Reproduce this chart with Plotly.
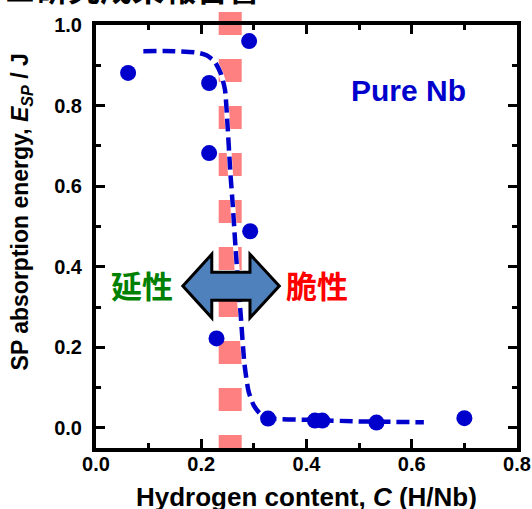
import plotly.graph_objects as go

# Measured data points (H/Nb, J)
h_content = [0.061, 0.215, 0.291, 0.215, 0.293, 0.229, 0.327, 0.416, 0.430, 0.533, 0.700]
sp_energy = [0.881, 0.856, 0.960, 0.682, 0.488, 0.222, 0.023, 0.018, 0.018, 0.013, 0.024]

# Guide curve
curve_x = [0.09, 0.15, 0.19, 0.21, 0.225, 0.237, 0.245, 0.25, 0.255, 0.26, 0.265,
           0.27, 0.275, 0.282, 0.29, 0.30, 0.312, 0.327, 0.40, 0.50, 0.623]
curve_y = [0.935, 0.935, 0.932, 0.925, 0.91, 0.88, 0.84, 0.75, 0.64, 0.55, 0.45,
           0.36, 0.28, 0.16, 0.09, 0.055, 0.035, 0.024, 0.02, 0.016, 0.014]

transition_c = 0.255
x_ticks = [0.0, 0.2, 0.4, 0.6, 0.8]
y_ticks = [0.0, 0.2, 0.4, 0.6, 0.8, 1.0]

BLUE = "#0000CC"
FONT = "Liberation Sans"

fig = go.Figure()
fig.add_trace(go.Scatter(x=curve_x, y=curve_y, mode="lines",
                         line=dict(color="white", width=5, shape="spline", smoothing=0.6),
                         hoverinfo="skip", showlegend=False))
fig.add_trace(go.Scatter(x=curve_x, y=curve_y, mode="lines",
                         line=dict(color=BLUE, width=4.5, dash="13px,6px", shape="spline", smoothing=0.6),
                         showlegend=False))
fig.add_trace(go.Scatter(x=h_content, y=sp_energy, mode="markers",
                         marker=dict(color=BLUE, size=16), showlegend=False))

# Pink transition band
fig.add_shape(type="line", xref="x", yref="paper", x0=transition_c, x1=transition_c,
              y0=1.031, y1=0.0, line=dict(color="#FF8080", width=23, dash="23px,24px"),
              layer="below")

# Double-headed arrow
ax = [0.165, 0.220, 0.220, 0.2926, 0.2926, 0.3483, 0.2926, 0.2926, 0.220, 0.220]
ay = [0.352, 0.431, 0.386, 0.386, 0.431, 0.352, 0.273, 0.317, 0.317, 0.273]
path = "M " + " L ".join(f"{a},{b}" for a, b in zip(ax, ay)) + " Z"
fig.add_shape(type="path", xref="x", yref="y", path=path,
              fillcolor="#4F81BD", line=dict(color="black", width=3), layer="above")

fig.add_annotation(x=0.087, y=0.356, xref="x", yref="y", text="延性", showarrow=False,
                   xanchor="center", yanchor="middle",
                   font=dict(family="Noto Sans CJK JP", size=31, color="#008000", weight="bold"))
fig.add_annotation(x=0.419, y=0.356, xref="x", yref="y", text="脆性", showarrow=False,
                   xanchor="center", yanchor="middle",
                   font=dict(family="Noto Sans CJK JP", size=31, color="#FF0000", weight="bold"))
fig.add_annotation(x=0.593, y=0.837, xref="x", yref="y", text="Pure Nb", showarrow=False,
                   xanchor="center", yanchor="middle",
                   font=dict(family=FONT, size=30, color=BLUE, weight="bold"))

# Axis titles
fig.add_annotation(x=0.499, y=-0.116, xref="paper", yref="paper", xanchor="center", yanchor="middle",
                   text="Hydrogen content, <i>C</i> (H/Nb)", showarrow=False,
                   font=dict(family=FONT, size=26, color="black", weight="bold"))
fig.add_annotation(x=-0.178, y=0.557, xref="paper", yref="paper", textangle=-90,
                   xanchor="center", yanchor="middle",
                   text="SP absorption energy, <i>E</i><sub><i>SP</i></sub> / J", showarrow=False,
                   font=dict(family=FONT, size=23, color="black", weight="bold"))

# Cropped slide header
fig.add_annotation(x=0.394, y=1.031, xref="paper", yref="paper", xanchor="right", yanchor="bottom",
                   text="■研究成果報告書", showarrow=False,
                   font=dict(family="Noto Sans CJK JP", size=32, color="black", weight="bold"))

axis_common = dict(showline=True, linewidth=4, linecolor="black", mirror="ticks",
                   ticks="inside", ticklen=9, tickwidth=3, tickcolor="black",
                   showgrid=False, zeroline=False, automargin=False,
                   tickfont=dict(family=FONT, size=20, color="black", weight="bold"))
fig.update_xaxes(range=[0, 0.8], tickvals=x_ticks, ticktext=[f"{v:.1f}" for v in x_ticks],
                 ticklabelstandoff=-5,
                 minor=dict(ticks="inside", ticklen=5, tickwidth=3, dtick=0.1, tickcolor="black"),
                 **axis_common)
fig.update_yaxes(range=[-0.05, 1.0], tickvals=y_ticks, ticktext=[f"{v:.1f}" for v in y_ticks],
                 ticklabelstandoff=6,
                 minor=dict(ticks="inside", ticklen=5, tickwidth=3, dtick=0.1, tickcolor="black"),
                 **axis_common)

fig.update_layout(width=532, height=509, margin=dict(l=96, r=15, t=25, b=61),
                  plot_bgcolor="white", paper_bgcolor="white")

fig.write_html("out.html")
